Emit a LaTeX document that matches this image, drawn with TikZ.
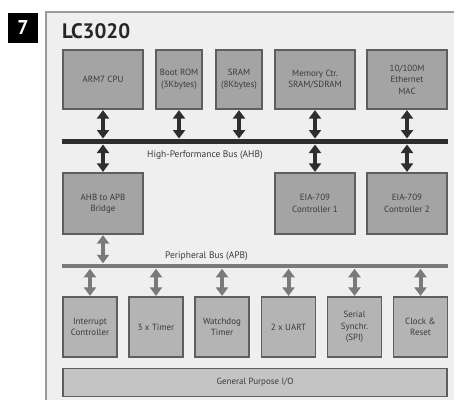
\documentclass[tikz,border=0pt]{standalone}
\usepackage{fontspec}
\setmainfont{PT Sans}
\usetikzlibrary{arrows.meta}
\definecolor{framefill}{HTML}{EFEFEF}
\definecolor{framedraw}{HTML}{9A9A9A}
\definecolor{boxfill}{HTML}{A4A4A4}
\definecolor{boxlow}{HTML}{B4B4B4}
\definecolor{gpiofill}{HTML}{C4C4C4}
\definecolor{boxdraw}{HTML}{5E5E5E}
\definecolor{txt}{HTML}{3A3A3A}
\definecolor{ahbcol}{HTML}{2E2E2E}
\definecolor{apbcol}{HTML}{7A7A7A}
\tikzset{
  blk/.style={draw=boxdraw, line width=1.2bp, fill=boxfill, text=txt, inner sep=0pt,
    align=center, font=\fontsize{9}{11.5}\selectfont},
  blklow/.style={blk, fill=boxlow},
  busbar/.style={inner sep=0pt, outer sep=0pt},
  ahbarrow/.style={draw=ahbcol, line width=4bp,
    {Triangle[width=12bp,length=8.5bp]}-{Triangle[width=12bp,length=8.5bp]}, shorten <=0.5bp, shorten >=0.5bp},
  apbarrow/.style={ahbarrow, draw=apbcol},
  buslabel/.style={text=txt, font=\fontsize{9.5}{10}\selectfont, inner sep=0pt, anchor=west}
}
\begin{document}
\begin{tikzpicture}[x=1bp,y=-1bp]
\useasboundingbox (0,0) rectangle (454,399);
% frame
\fill[framefill] (46,12) rectangle (460,405);
\draw[framedraw, line width=1.5bp] (46,405) -- (46,12) -- (460,12);
% number badge
\node[fill=black, text=white, minimum width=30bp, minimum height=30bp, inner sep=0pt,
  font=\fontsize{20}{20}\bfseries\selectfont] (num) at (23,28) {7};
\node[anchor=base west, inner sep=0pt, text=black!85, font=\fontsize{21}{21}\bfseries\selectfont] (title) at (62,38) {LC3020};
% top row
\node[blk, minimum width=80bp, minimum height=59bp] (cpu) at (103,79.5) {ARM7 CPU};
\node[blk, minimum width=46bp, minimum height=59bp] (rom) at (179,79.5) {Boot ROM\\(3Kbytes)};
\node[blk, minimum width=46bp, minimum height=59bp] (sram) at (239,79.5) {SRAM\\(8Kbytes)};
\node[blk, minimum width=80bp, minimum height=59bp] (mem) at (315,79.5) {Memory Ctr.\\SRAM/SDRAM};
\node[blk, minimum width=80bp, minimum height=59bp] (eth) at (407,79.5) {10/100M\\Ethernet\\MAC};
% AHB bus
\node[busbar, fill=ahbcol, minimum width=385bp, minimum height=5bp] (ahb) at (255,141.5) {};
\node[buslabel] (ahblabel) at (147,155.5) {High-Performance Bus (AHB)};
% middle row
\node[blk, minimum width=80bp, minimum height=61bp] (bridge) at (103,203.5) {AHB to APB\\Bridge};
\node[blk, minimum width=80bp, minimum height=61bp] (eia1) at (315,203.5) {EIA-709\\Controller 1};
\node[blk, minimum width=80bp, minimum height=61bp] (eia2) at (407,203.5) {EIA-709\\Controller 2};
% APB bus
\node[busbar, fill=apbcol, minimum width=385bp, minimum height=4.5bp] (apb) at (255,266) {};
\node[buslabel] (apblabel) at (165,256) {Peripheral Bus (APB)};
% bottom row
\node[blklow, minimum width=54bp, minimum height=60bp] (irq) at (90,327) {Interrupt\\Controller};
\node[blklow, minimum width=54bp, minimum height=60bp] (tmr) at (156,327) {3 x Timer};
\node[blklow, minimum width=54bp, minimum height=60bp] (wdt) at (222,327) {Watchdog\\Timer};
\node[blklow, minimum width=54bp, minimum height=60bp] (uart) at (288.5,327) {2 x UART};
\node[blklow, minimum width=54bp, minimum height=60bp] (spi) at (354.5,327) {Serial\\Synchr.\\(SPI)};
\node[blklow, minimum width=54bp, minimum height=60bp] (clk) at (420.5,327) {Clock \&\\Reset};
\node[blk, fill=gpiofill, minimum width=384bp, minimum height=28bp] (gpio) at (255,382.5) {General Purpose I/O};
% AHB arrows
\foreach \b in {cpu,rom,sram,mem,eth}
  \draw[ahbarrow] (\b.south) -- (ahb.north -| \b.south);
\foreach \b in {bridge,eia1,eia2}
  \draw[ahbarrow] (ahb.south -| \b.north) -- (\b.north);
% APB arrows
\draw[apbarrow] (bridge.south) -- (apb.north -| bridge.south);
\foreach \b in {irq,tmr,wdt,uart,spi,clk}
  \draw[apbarrow] (apb.south -| \b.north) -- (\b.north);
\end{tikzpicture}
\end{document}
